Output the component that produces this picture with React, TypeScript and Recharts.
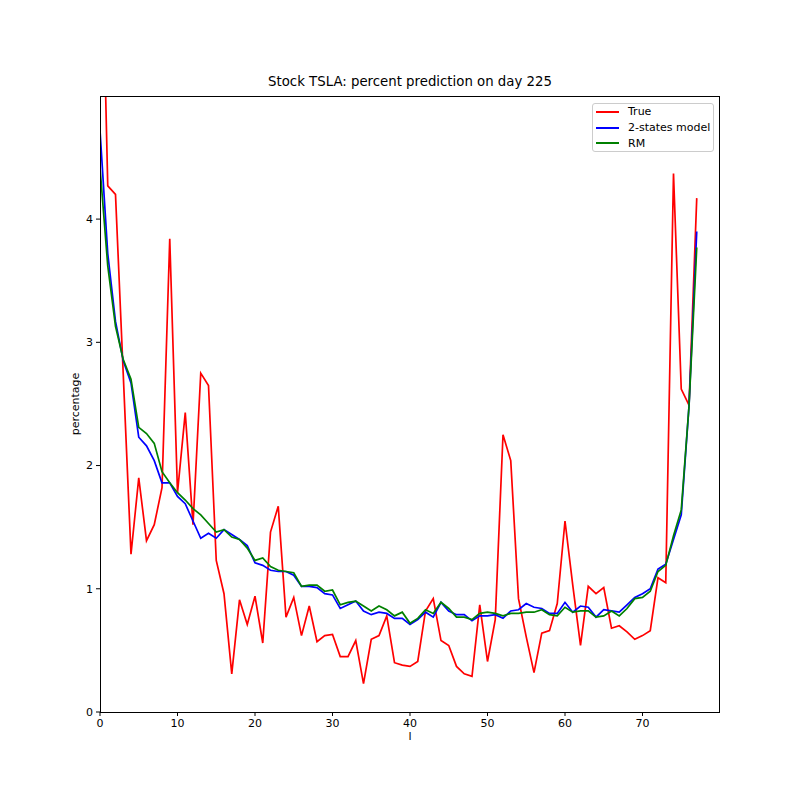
import { LineChart, Line, XAxis, YAxis } from 'recharts';

const trueVals = [
  7.0, 4.27, 4.2, 2.74, 1.28, 1.9, 1.39, 1.52, 1.82, 3.84,
  1.78, 2.43, 1.52, 2.75, 2.65, 1.23, 0.96, 0.31, 0.91, 0.71,
  0.94, 0.56, 1.46, 1.67, 0.77, 0.93, 0.62, 0.86, 0.57, 0.62,
  0.63, 0.45, 0.45, 0.58, 0.23, 0.59, 0.62, 0.78, 0.4, 0.38,
  0.37, 0.41, 0.82, 0.92, 0.58, 0.54, 0.37, 0.31, 0.29, 0.87,
  0.41, 0.75, 2.25, 2.04, 0.92, 0.61, 0.32, 0.64, 0.66, 0.88,
  1.55, 1.03, 0.54, 1.02, 0.96, 1.01, 0.68, 0.7, 0.65, 0.59,
  0.62, 0.66, 1.09, 1.05, 4.37, 2.62, 2.49, 4.17,
];

const twoStates = [
  4.72, 3.72, 3.17, 2.85, 2.67, 2.23, 2.16, 2.04, 1.86, 1.86,
  1.75, 1.69, 1.55, 1.41, 1.45, 1.41, 1.48, 1.44, 1.4, 1.35,
  1.21, 1.19, 1.15, 1.14, 1.14, 1.11, 1.02, 1.02, 1.01, 0.96,
  0.95, 0.84, 0.87, 0.9, 0.82, 0.79, 0.81, 0.8, 0.76, 0.76,
  0.71, 0.75, 0.81, 0.77, 0.89, 0.82, 0.79, 0.79, 0.74, 0.78,
  0.78, 0.79, 0.76, 0.82, 0.83, 0.88, 0.85, 0.84, 0.8, 0.8,
  0.89, 0.81, 0.86, 0.85, 0.77, 0.83, 0.82, 0.81, 0.87, 0.93,
  0.96, 1.0, 1.16, 1.2, 1.4, 1.6, 2.48, 3.9,
];

const rm = [
  4.42, 3.62, 3.13, 2.86, 2.7, 2.31, 2.26, 2.18, 1.95, 1.86,
  1.78, 1.72, 1.65, 1.6, 1.53, 1.46, 1.48, 1.42, 1.4, 1.33,
  1.23, 1.25, 1.18, 1.15, 1.14, 1.13, 1.02, 1.03, 1.03, 0.98,
  0.99, 0.87, 0.89, 0.9, 0.86, 0.82, 0.86, 0.83, 0.78, 0.81,
  0.72, 0.76, 0.83, 0.8, 0.89, 0.84, 0.77, 0.77, 0.75, 0.8,
  0.81, 0.8, 0.78, 0.8, 0.8, 0.81, 0.81, 0.83, 0.79, 0.78,
  0.85, 0.81, 0.82, 0.82, 0.77, 0.78, 0.82, 0.78, 0.84, 0.92,
  0.93, 0.98, 1.14, 1.19, 1.43, 1.64, 2.48, 3.77,
];

const xTicks = [0, 10, 20, 30, 40, 50, 60, 70];
const yTicks = [0, 1, 2, 3, 4];

const series = [
  { key: 'true', name: 'True', color: '#ff0000' },
  { key: 'two', name: '2-states model', color: '#0000ff' },
  { key: 'rm', name: 'RM', color: '#008000' },
];

const data = trueVals.map((v, i) => ({ l: i, true: v, two: twoStates[i], rm: rm[i] }));

const FONT = '"DejaVu Sans", sans-serif';

function LegendBox() {
  return (
    <div
      style={{
        position: 'absolute',
        left: 592,
        top: 103,
        width: 122,
        height: 49,
        border: '1px solid #cccccc',
        borderRadius: 3,
        background: 'rgba(255,255,255,0.8)',
        fontSize: 11,
        color: '#000',
        boxSizing: 'border-box',
        paddingTop: 0,
      }}
    >
      {series.map((s) => (
        <div key={s.key} style={{ height: 15.7, display: 'flex', alignItems: 'center' }}>
          <div style={{ width: 23, height: 2, background: s.color, marginLeft: 3, marginRight: 9 }} />
          <span>{s.name}</span>
        </div>
      ))}
    </div>
  );
}

export default function App() {
  return (
    <div style={{ position: 'absolute', left: 0, top: 0, width: 800, height: 800, background: '#fff', fontFamily: FONT }}>
      <LineChart width={800} height={800} data={data} margin={{ top: 96, right: 80, bottom: 58, left: 60 }}>
        <XAxis
          type="number"
          dataKey="l"
          domain={[0, 80]}
          ticks={xTicks}
          height={30}
          axisLine={false}
          tickLine={{ stroke: '#000' }}
          tickSize={4}
          tickMargin={3}
          tick={{ fill: '#000', fontSize: 11, fontFamily: FONT }}
          allowDataOverflow
        />
        <YAxis
          type="number"
          domain={[0, 4.999]}
          ticks={yTicks}
          width={40}
          axisLine={false}
          tickLine={{ stroke: '#000' }}
          tickSize={4}
          tickMargin={3}
          tick={{ fill: '#000', fontSize: 11, fontFamily: FONT }}
          allowDataOverflow
        />
        {series.map((s) => (
          <Line
            key={s.key}
            type="linear"
            dataKey={s.key}
            name={s.name}
            stroke={s.color}
            strokeWidth={1.7}
            dot={false}
            activeDot={false}
            isAnimationActive={false}
          />
        ))}
      </LineChart>
      <div
        style={{
          position: 'absolute',
          left: 100,
          top: 96,
          width: 620,
          height: 617,
          border: '1px solid #000',
          boxSizing: 'border-box',
          pointerEvents: 'none',
        }}
      />
      <LegendBox />
      <div style={{ position: 'absolute', left: 0, width: 820, top: 74, textAlign: 'center', fontSize: 13.3, color: '#000' }}>
        Stock TSLA: percent prediction on day 225
      </div>
      <div style={{ position: 'absolute', left: 0, width: 820, top: 730, textAlign: 'center', fontSize: 11, color: '#000' }}>
        l
      </div>
      <div
        style={{
          position: 'absolute',
          left: 75,
          top: 404,
          transform: 'translate(-50%, -50%) rotate(-90deg)',
          fontSize: 11,
          color: '#000',
          whiteSpace: 'nowrap',
        }}
      >
        percentage
      </div>
    </div>
  );
}
